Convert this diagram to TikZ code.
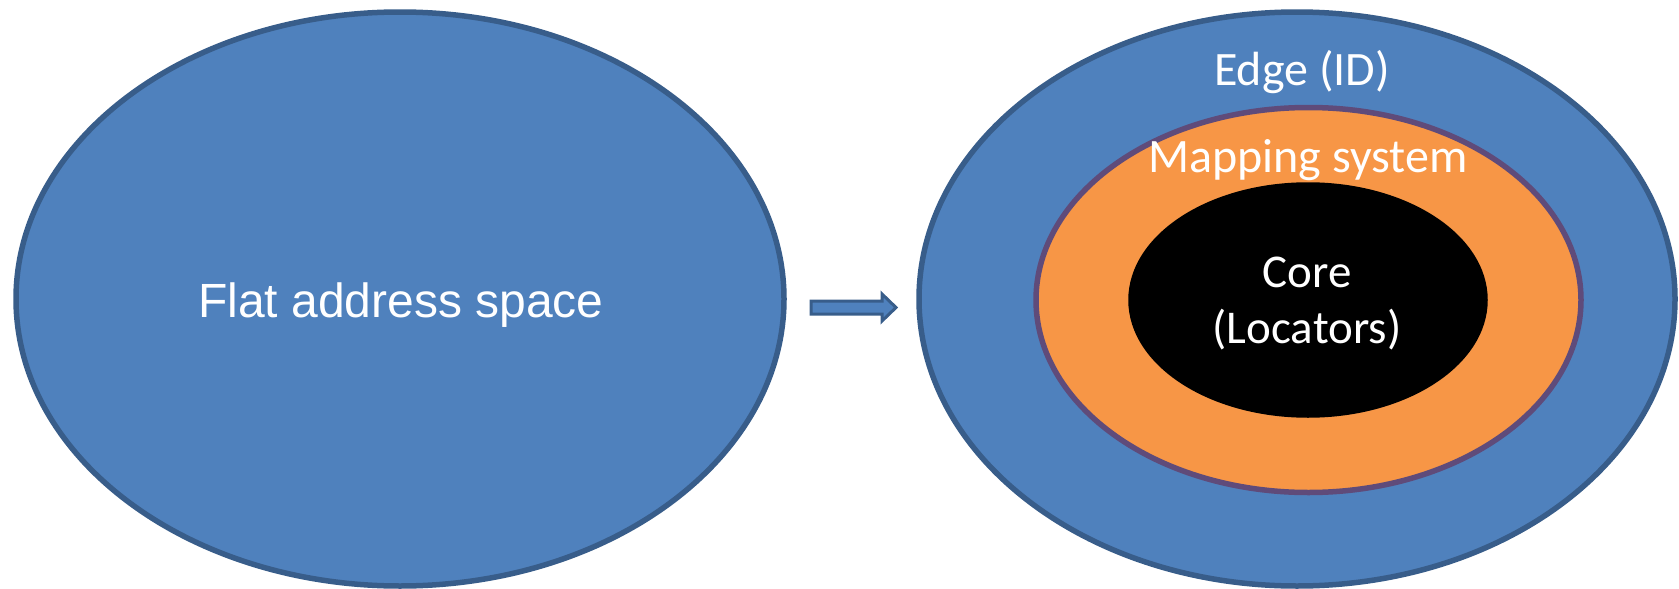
\documentclass[tikz,border=0pt]{standalone}
\usepackage{fontspec}
\setmainfont{Carlito}
\newfontfamily\arialfont{Liberation Sans}
\usetikzlibrary{shapes.geometric}

\definecolor{blobblue}{HTML}{4F81BD}
\definecolor{blobline}{HTML}{385D8A}
\definecolor{maporange}{HTML}{F79646}
\definecolor{mapline}{HTML}{5F4B7A}

\tikzset{every picture/.style={line width=5.5pt}}
\tikzset{
  blob/.style={ellipse,inner sep=0pt,fill=blobblue,draw=blobline},
  label/.style={text=white,inner sep=0pt,anchor=base}
}

\begin{document}
\begin{tikzpicture}[x=1pt,y=1pt,yscale=-1,xscale=1]
        \useasboundingbox (0,0) rectangle (1679,589);

        % left: flat
        \node [blob,minimum width=768,minimum height=574] (flat) at (400,299) {};
        \node [label,font=\arialfont\fontsize{48}{58}\selectfont] (flattext) at (401,317) {Flat address space};

        % arrow
        \draw [fill=blobblue,draw=blobline,line width=3pt] (811,301) -- (882,301) -- (882,294) -- (896,307.5) -- (882,321) -- (882,314) -- (811,314) -- cycle;

        % right: layers
        \node [blob,minimum width=756,minimum height=574] (edge) at (1297,299) {};
        \node [ellipse,inner sep=0pt,fill=maporange,draw=mapline,minimum width=545,minimum height=385] (mapping) at (1308.5,300) {};
        \node [ellipse,inner sep=0pt,fill=black,draw=black,minimum width=354,minimum height=230] (core) at (1308,300) {};

        \node [label,font=\fontsize{48}{58}\selectfont] (edgetext) at (1302,85) {Edge (ID)};
        \node [label,font=\fontsize{48}{58}\selectfont] (maptext) at (1308,172) {Mapping system};
        \node [label,font=\fontsize{47}{56}\selectfont] (coretext) at (1307,287) {Core};
        \node [label,font=\fontsize{47}{56}\selectfont] (loctext) at (1307,343) {(Locators)};
\end{tikzpicture}
\end{document}
